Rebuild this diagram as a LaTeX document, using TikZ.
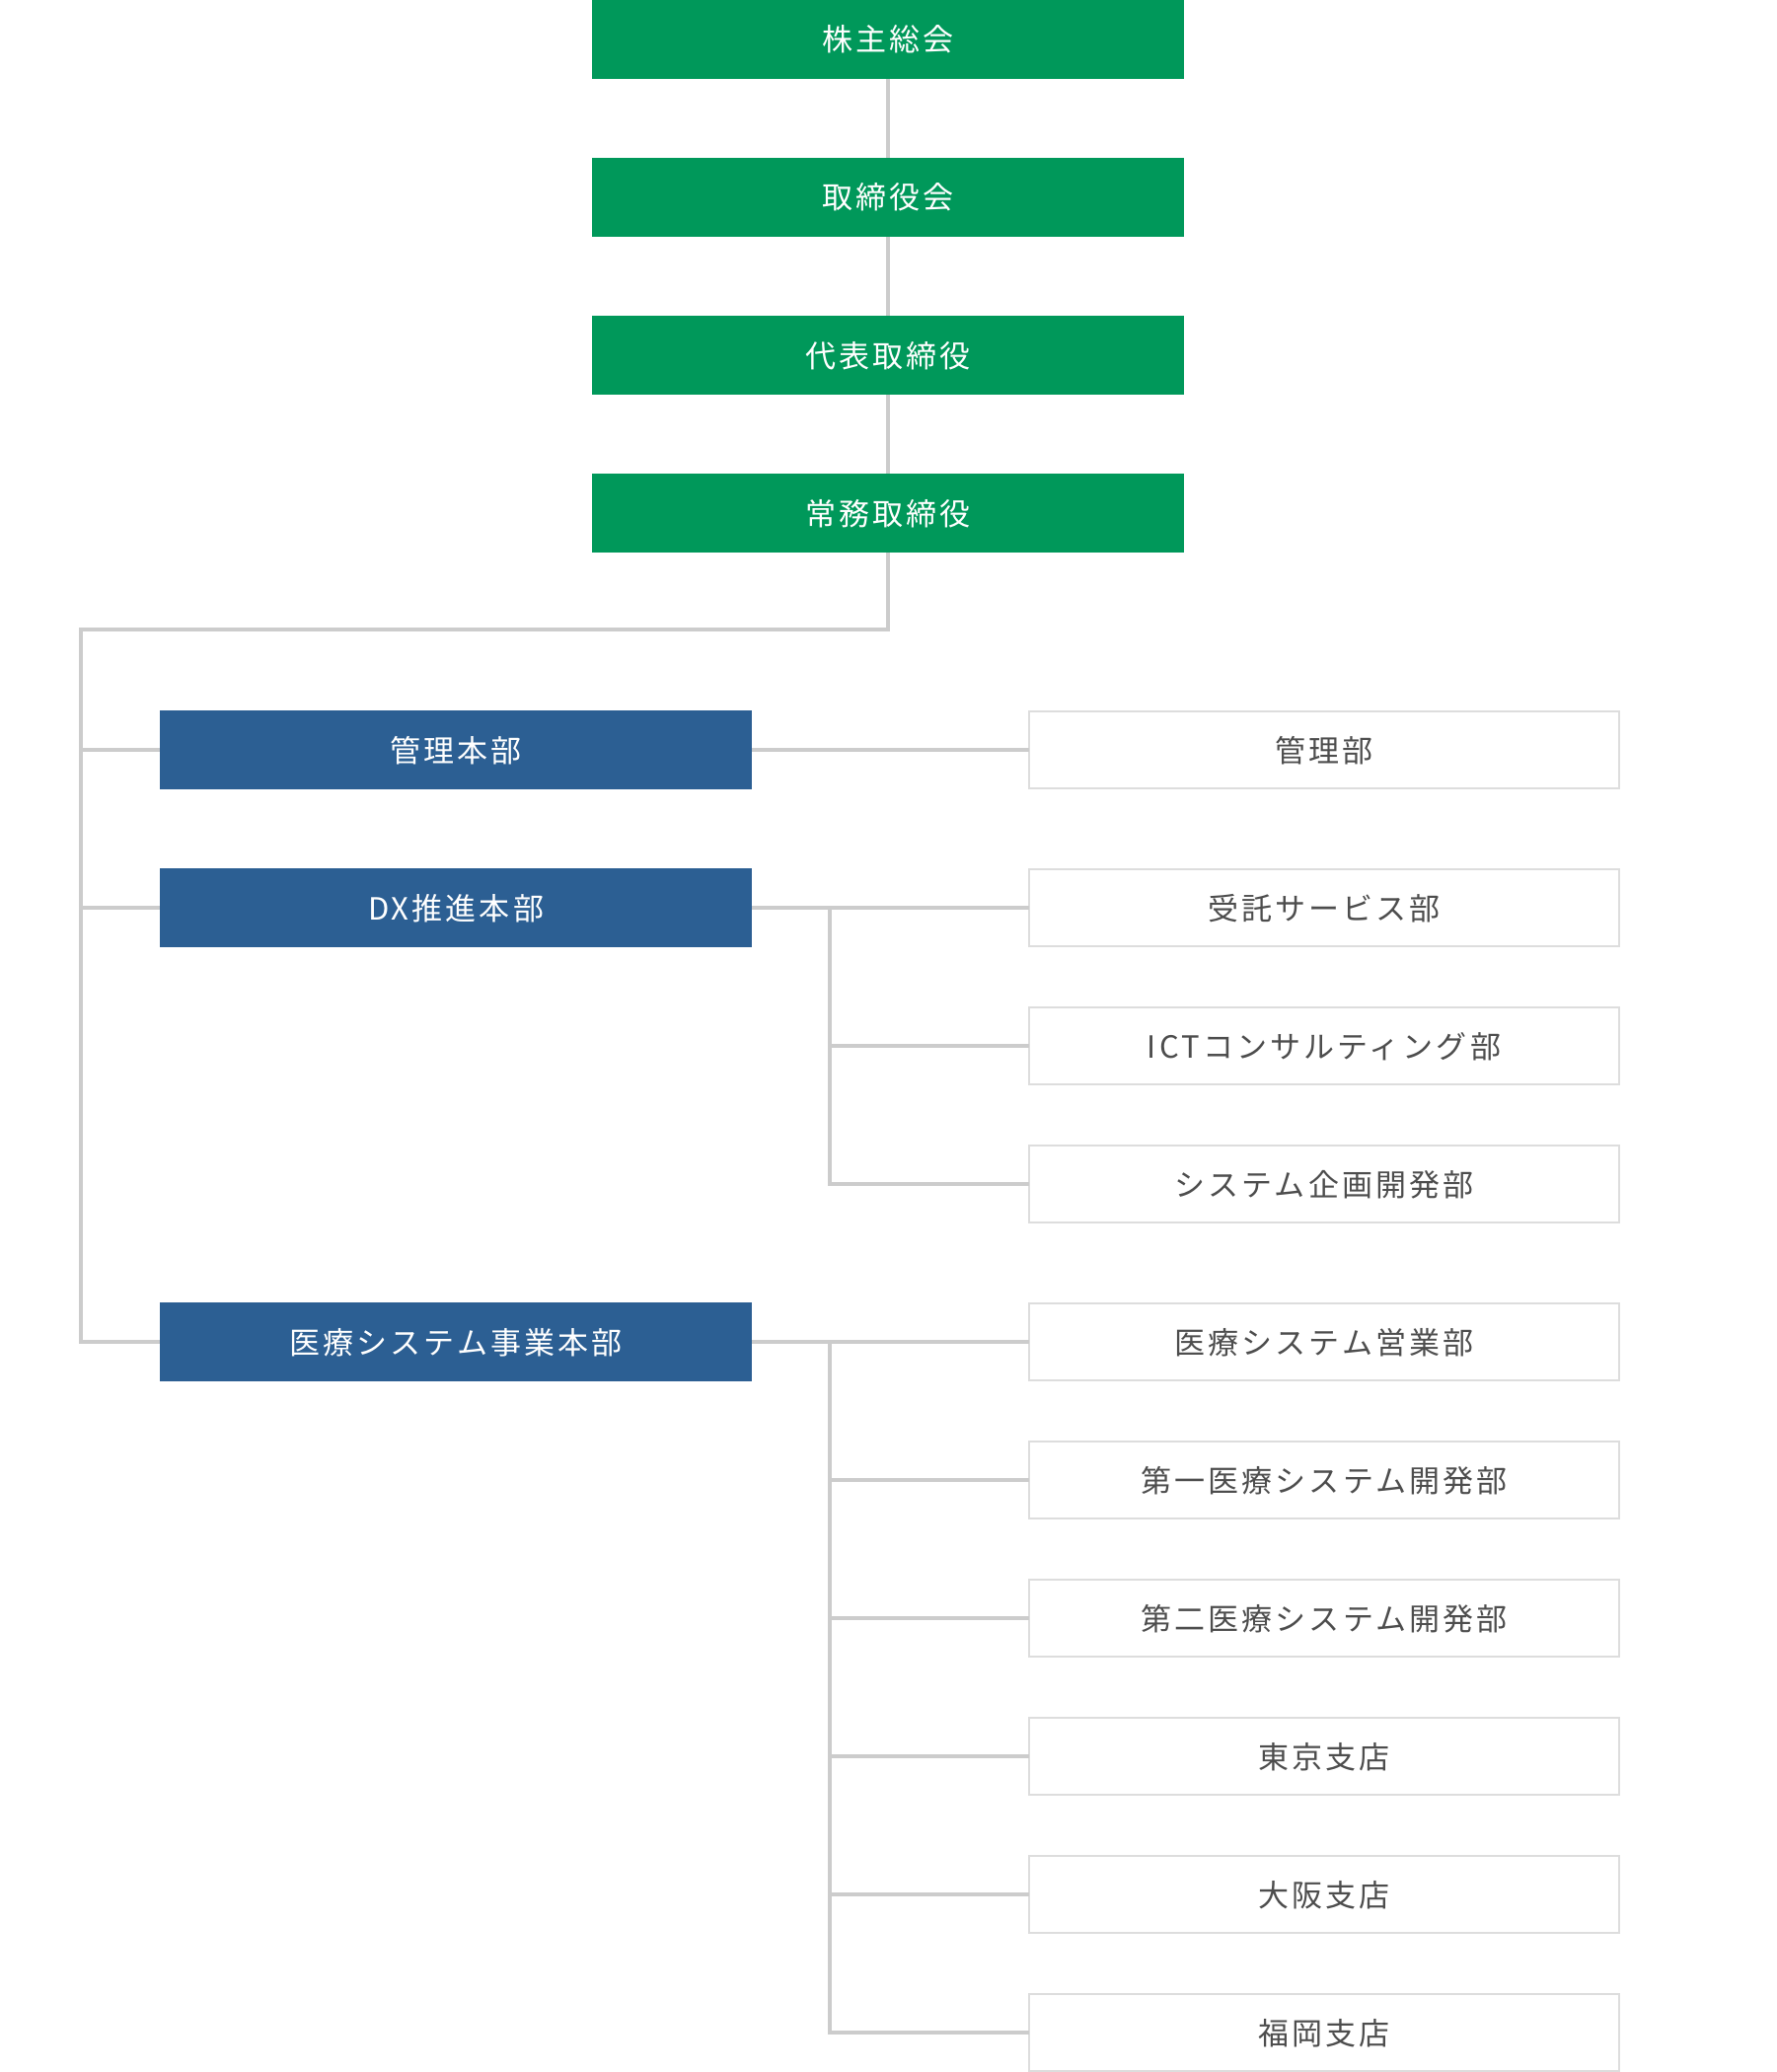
\documentclass[tikz,border=0pt]{standalone}
\usepackage{fontspec}
\setmainfont{Noto Sans CJK JP}[LetterSpace=10]
\definecolor{boardgreen}{HTML}{00985A}
\definecolor{divblue}{HTML}{2C5F93}
\definecolor{linegray}{HTML}{CCCCCC}
\definecolor{boxgray}{HTML}{DDDDDD}
\definecolor{textgray}{HTML}{4D4D4D}
\begin{document}
\begin{tikzpicture}[x=1pt,y=-1pt,
  conn/.style={draw=linegray, line width=4pt},
  basebox/.style={anchor=north west, inner sep=0pt, outer sep=0pt,
    minimum width=600pt, minimum height=80pt,
    font=\fontsize{31pt}{36pt}\selectfont, text height=24pt, text depth=0pt},
  gbox/.style={basebox, fill=boardgreen, text=white},
  bbox/.style={basebox, fill=divblue, text=white},
  wbox/.style={basebox, minimum width=598pt, minimum height=78pt,
    draw=boxgray, line width=2pt, fill=white, text=textgray}
]
\useasboundingbox (0,0) rectangle (1800,2100);
% board chain
\node[gbox] (g1) at (600,0) {株主総会};
\node[gbox] (g2) at (600,160) {取締役会};
\node[gbox] (g3) at (600,320) {代表取締役};
\node[gbox] (g4) at (600,480) {常務取締役};
% divisions
\node[bbox] (b1) at (162,720) {管理本部};
\node[bbox] (b2) at (162,880) {DX推進本部};
\node[bbox] (b3) at (162,1320) {医療システム事業本部};
% departments
\node[wbox] (w1) at (1043,721) {管理部};
\node[wbox] (w2) at (1043,881) {受託サービス部};
\node[wbox] (w3) at (1043,1021) {ICTコンサルティング部};
\node[wbox] (w4) at (1043,1161) {システム企画開発部};
\node[wbox] (w5) at (1043,1321) {医療システム営業部};
\node[wbox] (w6) at (1043,1461) {第一医療システム開発部};
\node[wbox] (w7) at (1043,1601) {第二医療システム開発部};
\node[wbox] (w8) at (1043,1741) {東京支店};
\node[wbox] (w9) at (1043,1881) {大阪支店};
\node[wbox] (w10) at (1043,2021) {福岡支店};
% coordinates
\coordinate (trunk) at (82,638);
\coordinate (br) at (841,0);
% connectors
\draw[conn] (g1.south) -- (g2.north);
\draw[conn] (g2.south) -- (g3.north);
\draw[conn] (g3.south) -- (g4.north);
\draw[conn, line join=miter] (g4.south) |- (trunk) |- (b3.west);
\draw[conn] (b1.west -| trunk) -- (b1.west);
\draw[conn] (b2.west -| trunk) -- (b2.west);
\draw[conn] (b1.east) -- (w1.west);
\draw[conn] (b2.east) -- (w2.west);
\draw[conn, line join=miter] (b2.east -| br) |- (w4.west);
\draw[conn] (w3.west -| br) -- (w3.west);
\draw[conn] (b3.east) -- (w5.west);
\draw[conn, line join=miter] (b3.east -| br) |- (w10.west);
\draw[conn] (w6.west -| br) -- (w6.west);
\draw[conn] (w7.west -| br) -- (w7.west);
\draw[conn] (w8.west -| br) -- (w8.west);
\draw[conn] (w9.west -| br) -- (w9.west);
\end{tikzpicture}
\end{document}
